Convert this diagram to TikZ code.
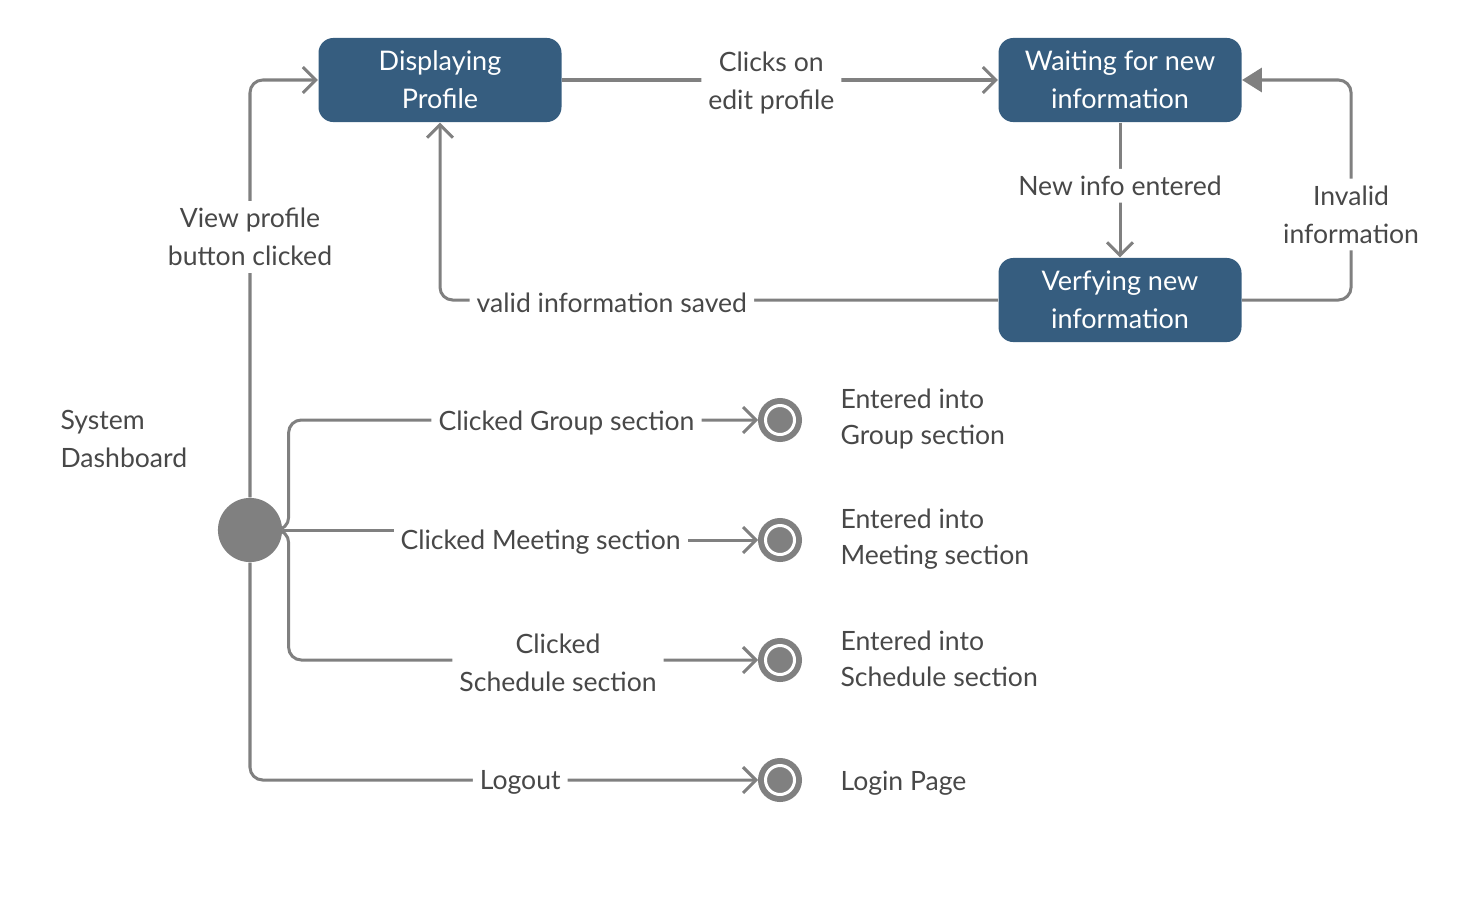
\documentclass[tikz,border=0pt]{standalone}
\usepackage{fontspec}
\setmainfont{Lato}
\definecolor{statefill}{RGB}{54,93,127}
\definecolor{wire}{RGB}{128,128,128}
\definecolor{ink}{RGB}{72,72,72}
\usetikzlibrary{arrows.meta,positioning}
\tikzset{
  state/.style={fill=statefill,rounded corners=5.3pt,text=white,align=center,
                minimum width=86.4pt,minimum height=29.9pt,inner sep=2pt,
                font=\fontsize{9.6}{13.5}\selectfont},
  start/.style={circle,fill=wire,minimum size=22.8pt,inner sep=0pt},
  finish/.style={circle,fill=wire,draw=wire,double=white,double distance=1.07pt,
                 line width=2.13pt,minimum size=10.3pt,inner sep=0pt,outer sep=2.67pt},
  arr/.style={-{Straight Barb[length=4.6pt,width=9.2pt]},line width=1.07pt,draw=wire,
              rounded corners=4.5pt},
  arrfull/.style={-{Triangle[length=7pt,width=8.5pt]},line width=1.07pt,draw=wire,
                  rounded corners=4.5pt},
  lbl/.style={fill=white,text=ink,align=center,inner sep=2.5pt,yshift=-0.9pt,
              font=\fontsize{9.45}{13.5}\selectfont},
  note/.style={text=ink,align=left,anchor=west,inner sep=0pt,
               font=\fontsize{9.45}{12.8}\selectfont},
}
\begin{document}
\begin{tikzpicture}[x=0.0125cm,y=-0.0125cm]
  \useasboundingbox (0,0) rectangle (1458,900);
  % states
  \node[state] (disp) at (440,80) {Displaying\\Profile};
  \node[state] (wait) at (1120,80) {Waiting for new\\information};
  \node[state] (verify) at (1120,300) {Verfying new\\information};
  \node[start] (init) at (250,530) {};
  \node[finish] (group) at (780,420) {};
  \node[finish] (meet) at (780,540) {};
  \node[finish] (sched) at (780,660) {};
  \node[finish] (login) at (780,780) {};
  % notes
  \node[note,font=\fontsize{9.45}{13.5}\selectfont] (dash) at (60,439) {System\\Dashboard};
  \node[note] (ngroup) at (840,419) {Entered into\\Group section};
  \node[note] (nmeet) at (840,539) {Entered into\\Meeting section};
  \node[note] (nsched) at (840,659) {Entered into\\Schedule section};
  \node[note] (nlogin) at (840,783) {Login Page};
  % transitions
  \draw[arr] (init.north) |- node[lbl,pos=0.315]{View profile\\button clicked} (disp.west);
  \draw[arr] (disp) -- node[lbl,pos=0.48]{Clicks on\\edit profile} (wait);
  \draw[arr] (wait) -- node[lbl,pos=0.45]{New info entered} (verify);
  \draw[arr] (verify.west) -| node[lbl,pos=0.346]{valid information saved} (disp.south);
  \draw[arrfull] (verify.east) -- ++(109,0) |- node[lbl,pos=0.2]{Invalid\\information} (wait.east);
  \draw[arr] (init.east) -- ++(6,0) |- node[lbl,pos=0.796]{Clicked Group section} (group);
  \draw[arr,rounded corners=0pt] (init.east) -- ++(258,0) -- ++(0,10)
    node[lbl]{Clicked Meeting section} -- (meet);
  \draw[arr] (init.east) -- ++(6,0) |- node[lbl,pos=0.787]{Clicked\\Schedule section} (sched);
  \draw[arr] (init.south) |- node[lbl,pos=0.766]{Logout} (login);
\end{tikzpicture}
\end{document}
